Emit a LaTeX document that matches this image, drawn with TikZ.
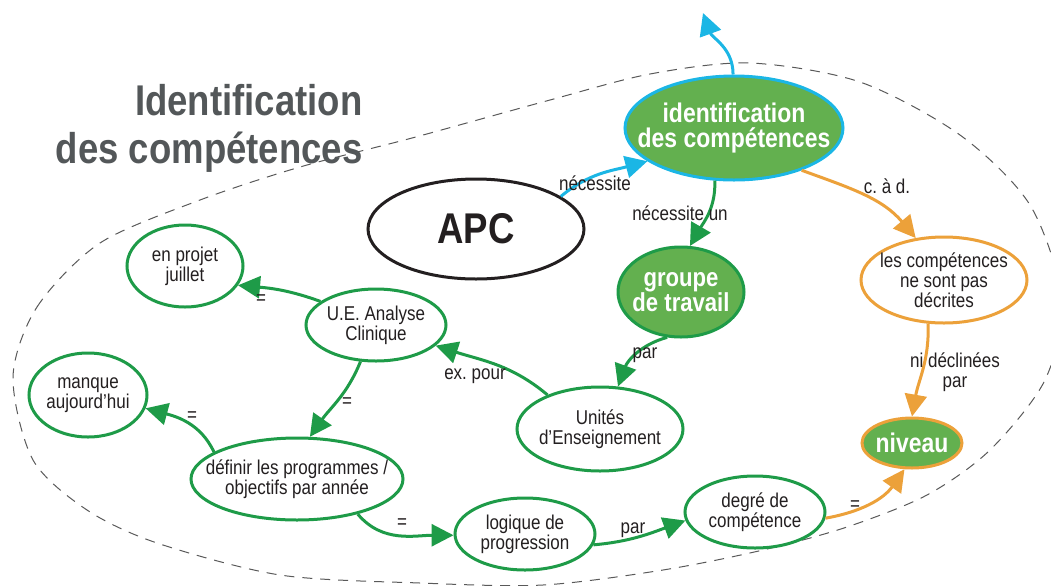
\documentclass[tikz,border=0pt]{standalone}
\usepackage{fontspec}
\setmainfont{Liberation Sans}[FakeStretch=0.85]
\usetikzlibrary{shapes.geometric}
\usetikzlibrary{arrows.meta}

\definecolor{grnfill}{RGB}{99,176,79}
\definecolor{grnline}{RGB}{30,155,72}
\definecolor{cyanline}{RGB}{27,182,229}
\definecolor{orng}{RGB}{236,161,58}
\definecolor{titlegray}{RGB}{83,87,89}
\definecolor{ink}{RGB}{35,31,32}

\frenchspacing

\begin{document}
\begin{tikzpicture} [x=0.5pt, y=0.5pt,
        every node/.style={text=ink, font=\fontsize{10}{10}\selectfont, align=center},
        bubble/.style={ellipse, draw=grnline, line width=1.5pt, inner sep=0pt, fill=white},
        keybubble/.style={bubble, fill=grnfill},
        keytext/.style={text=white, font=\fontsize{13.5}{12.5}\bfseries}]
            \useasboundingbox (0,0) rectangle (1051,-585);

            % zone
            \draw[gray!70!black, line width=0.5pt, dash pattern=on 5pt off 4pt]
                plot[smooth cycle] coordinates {(13,-377) (37,-307) (100,-243) (200,-200) (300,-167)
                (412,-138) (550,-100) (650,-74) (750,-63) (860,-82) (960,-135) (1030,-205)
                (1062,-300) (1045,-380) (990,-450) (927,-495) (847,-527) (763,-550) (663,-570)
                (543,-585) (420,-583) (280,-575) (157,-543) (87,-510) (33,-460)};

            \node[font=\fontsize{21.5}{24}\bfseries, text=titlegray, align=right, anchor=east, inner sep=0pt] (title) at (363,-128) {Identification\\des compétences};

            \node[keybubble, draw=cyanline, minimum width=109pt, minimum height=52pt,
                label={[keytext]center:identification\\des compétences}] (ident) at (734,-128) {};
            \node[bubble, draw=ink, minimum width=108pt, minimum height=50pt,
                label={[font=\fontsize{21.5}{22}\bfseries]center:APC}] (apc) at (476,-229) {};
            \node[keybubble, minimum width=63pt, minimum height=45pt,
                label={[keytext, font=\fontsize{13}{12.5}\bfseries]center:groupe\\de travail}] (grp) at (681,-292) {};
            \node[bubble, draw=orng, minimum width=83pt, minimum height=43pt,
                label={center:les compétences\\ne sont pas\\décrites}] (lcomp) at (944,-280) {};
            \node[keybubble, draw=orng, minimum width=50pt, minimum height=25pt,
                label={[keytext]center:niveau}] (niv) at (912,-443) {};
            \node[bubble, minimum width=70pt, minimum height=36pt,
                label={center:U.E. Analyse\\Clinique}] (ue) at (376,-325) {};
            \node[bubble, minimum width=58pt, minimum height=41pt,
                label={center:en projet\\juillet}] (proj) at (185,-266) {};
            \node[bubble, minimum width=59pt, minimum height=42pt,
                label={center:manque\\aujourd’hui}] (manq) at (88,-395) {};
            \node[bubble, minimum width=106pt, minimum height=41pt,
                label={center:définir les programmes /\\objectifs par année}] (def) at (297,-479) {};
            \node[bubble, minimum width=83pt, minimum height=42pt,
                label={center:Unités\\d’Enseignement}] (unit) at (600,-429) {};
            \node[bubble, minimum width=70pt, minimum height=36pt,
                label={center:logique de\\progression}] (log) at (525,-534) {};
            \node[bubble, minimum width=70pt, minimum height=36pt,
                label={center:degré de\\compétence}] (deg) at (755,-512) {};

            \coordinate (up) at (703,-13);

            \begin{scope}[line width=1.5pt, -{Triangle[length=11pt, width=11pt]}]
                \draw[cyanline] (apc.21) to[out=40, in=195] (ident.201);
                \draw[cyanline] (ident.91) to[out=90, in=-70] (up);
                \draw[grnline] (ident.250) to[out=-88, in=60] (grp.79);
                \draw[orng] (ident.-32) to[out=-20, in=130] (lcomp.124);
                \draw[orng] (lcomp.250) to[out=-88, in=80] (niv.90);
                \draw[grnline] (grp.253) to[out=195, in=70] (unit.67);
                \draw[grnline] (unit.147) to[out=140, in=-18] (ue.-19);
                \draw[grnline] (ue.157) to[out=160, in=-5] (proj.-20);
                \draw[grnline] (ue.247) to[out=-112, in=55] (def.73);
                \draw[grnline] (def.162) to[out=115, in=-15] (manq.-13);
                \draw[grnline] (def.-30) to[out=-50, in=180] (log.181);
                \draw[grnline] (log.-9) to[out=5, in=200] (deg.187);
                \draw[orng] (deg.-5) to[out=10, in=235] (niv.254);
            \end{scope}

            \node (l1) at (595,-183) {nécessite};
            \node (l2) at (680,-213) {nécessite un};
            \node (l3) at (887,-186) {c. à d.};
            \node (l4) at (955,-372) {ni déclinées\\par};
            \node (l5) at (645,-355) {par};
            \node (l6) at (475,-376) {ex. pour};
            \node (l7) at (261,-300) {=};
            \node (l8) at (347,-403) {=};
            \node (l9) at (192,-417) {=};
            \node (l10) at (402,-524) {=};
            \node (l11) at (633,-530) {par};
            \node (l12) at (855,-506) {=};
        \end{tikzpicture}
\end{document}
